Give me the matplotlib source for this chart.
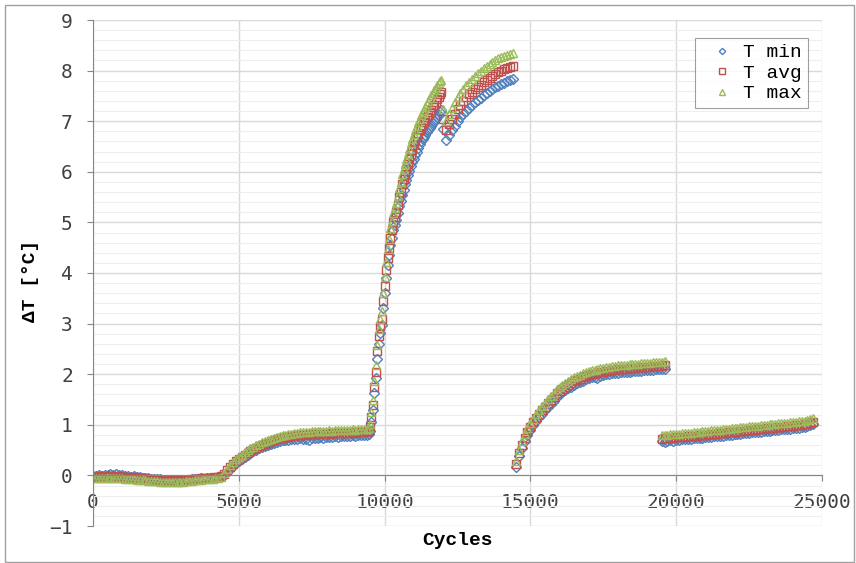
import numpy as np
import matplotlib
matplotlib.use("Agg")
import matplotlib.pyplot as plt
from matplotlib.ticker import MultipleLocator
from matplotlib.patches import Rectangle

# ---- data (cycles, delta T in degC) ----
# segment A: 0 .. 9400, every 100 cycles
x_a = np.arange(0, 9401, 100)
tmin_a = [-0.01, -0.02, 0.00, -0.01, 0.01, 0.00, 0.02, 0.01, 0.02, 0.01,
          0.00, -0.02, -0.01, -0.03, -0.02, -0.04, -0.04, -0.05, -0.05, -0.06,
          -0.07, -0.07, -0.08, -0.08, -0.09, -0.10, -0.09, -0.11, -0.10, -0.12,
          -0.11, -0.10, -0.10, -0.09, -0.08, -0.07, -0.08, -0.06, -0.07, -0.06,
          -0.06, -0.05, -0.05, -0.04, -0.03, 0.00, 0.06, 0.12, 0.18, 0.24,
          0.29, 0.33, 0.37, 0.41, 0.45, 0.48, 0.51, 0.54, 0.56, 0.58,
          0.60, 0.62, 0.64, 0.66, 0.68, 0.69, 0.70, 0.70, 0.71, 0.72,
          0.72, 0.73, 0.71, 0.72, 0.70, 0.73, 0.74, 0.73, 0.75, 0.74,
          0.76, 0.75, 0.76, 0.77, 0.76, 0.78, 0.77, 0.78, 0.77, 0.79,
          0.78, 0.79, 0.80, 0.79, 0.80]
tavg_a = [-0.03, -0.03, -0.02, -0.03, -0.02, -0.03, -0.02, -0.02, -0.03, -0.02,
          -0.03, -0.04, -0.04, -0.05, -0.04, -0.05, -0.06, -0.06, -0.07, -0.07,
          -0.08, -0.08, -0.09, -0.09, -0.10, -0.10, -0.10, -0.11, -0.10, -0.11,
          -0.10, -0.10, -0.09, -0.09, -0.08, -0.07, -0.07, -0.06, -0.06, -0.05,
          -0.05, -0.05, -0.04, -0.03, -0.02, 0.03, 0.10, 0.16, 0.22, 0.28,
          0.33, 0.37, 0.41, 0.45, 0.49, 0.52, 0.55, 0.58, 0.60, 0.62,
          0.65, 0.67, 0.69, 0.71, 0.73, 0.74, 0.75, 0.76, 0.77, 0.78,
          0.79, 0.79, 0.80, 0.80, 0.81, 0.81, 0.81, 0.82, 0.82, 0.82,
          0.82, 0.82, 0.83, 0.83, 0.83, 0.83, 0.84, 0.84, 0.84, 0.84,
          0.85, 0.85, 0.85, 0.86, 0.86]
tmax_a = [-0.05, -0.06, -0.05, -0.06, -0.05, -0.06, -0.05, -0.06, -0.06, -0.05,
          -0.06, -0.07, -0.07, -0.08, -0.08, -0.09, -0.09, -0.10, -0.10, -0.11,
          -0.11, -0.12, -0.12, -0.13, -0.13, -0.14, -0.14, -0.14, -0.13, -0.14,
          -0.13, -0.13, -0.12, -0.12, -0.11, -0.10, -0.10, -0.09, -0.08, -0.08,
          -0.07, -0.07, -0.06, -0.05, -0.03, 0.05, 0.13, 0.20, 0.26, 0.32,
          0.37, 0.41, 0.46, 0.50, 0.54, 0.57, 0.60, 0.63, 0.66, 0.68,
          0.70, 0.72, 0.74, 0.76, 0.78, 0.79, 0.80, 0.81, 0.82, 0.83,
          0.84, 0.85, 0.85, 0.86, 0.86, 0.87, 0.87, 0.88, 0.87, 0.88,
          0.88, 0.89, 0.88, 0.89, 0.89, 0.90, 0.89, 0.90, 0.90, 0.91,
          0.90, 0.91, 0.91, 0.92, 0.92]

# segment B: steep rise 9450 .. 11950, every 50 cycles
x_b = np.arange(9450, 11951, 50)
tmin_b = [0.82, 0.88, 1.05, 1.30, 1.62, 1.92, 2.30, 2.60, 2.82, 2.98,
          3.30, 3.60, 3.90, 4.15, 4.35, 4.55, 4.70, 4.84, 4.95, 5.05,
          5.18, 5.32, 5.42, 5.55, 5.65, 5.75, 5.84, 5.93, 6.02, 6.11,
          6.19, 6.26, 6.33, 6.40, 6.47, 6.54, 6.60, 6.64, 6.69, 6.73,
          6.78, 6.82, 6.87, 6.91, 6.96, 7.00, 7.04, 7.09, 7.13, 7.18,
          7.22]
tavg_b = [0.88, 0.95, 1.15, 1.40, 1.75, 2.05, 2.45, 2.75, 2.95, 3.10,
          3.45, 3.75, 4.05, 4.30, 4.50, 4.70, 4.85, 5.00, 5.10, 5.20,
          5.35, 5.50, 5.60, 5.75, 5.85, 5.95, 6.05, 6.15, 6.25, 6.35,
          6.44, 6.52, 6.60, 6.68, 6.75, 6.82, 6.88, 6.93, 6.98, 7.03,
          7.08, 7.13, 7.18, 7.23, 7.28, 7.33, 7.38, 7.43, 7.48, 7.53,
          7.57]
tmax_b = [0.93, 1.02, 1.25, 1.50, 1.86, 2.18, 2.58, 2.90, 3.10, 3.25,
          3.60, 3.92, 4.22, 4.48, 4.68, 4.88, 5.03, 5.18, 5.28, 5.38,
          5.53, 5.68, 5.80, 5.95, 6.05, 6.16, 6.26, 6.36, 6.46, 6.56,
          6.65, 6.74, 6.82, 6.90, 6.98, 7.05, 7.12, 7.18, 7.23, 7.29,
          7.34, 7.40, 7.45, 7.51, 7.56, 7.61, 7.66, 7.71, 7.75, 7.79,
          7.82]

# segment C: after the dip, 12000 .. 14400, every 100 cycles
x_c = np.arange(12000, 14401, 100)
tmin_c = [6.85, 6.62, 6.72, 6.82, 6.91, 7.00, 7.08, 7.15, 7.21, 7.27,
          7.32, 7.37, 7.42, 7.46, 7.51, 7.55, 7.59, 7.63, 7.67, 7.70,
          7.73, 7.76, 7.79, 7.81, 7.83]
tavg_c = [7.05, 6.82, 6.95, 7.05, 7.15, 7.25, 7.33, 7.40, 7.47, 7.53,
          7.58, 7.63, 7.68, 7.72, 7.77, 7.81, 7.85, 7.89, 7.93, 7.97,
          8.00, 8.03, 8.06, 8.08, 8.10]
tmax_c = [7.25, 7.00, 7.14, 7.26, 7.37, 7.47, 7.56, 7.64, 7.71, 7.78,
          7.84, 7.90, 7.95, 8.00, 8.05, 8.09, 8.13, 8.17, 8.21, 8.24,
          8.27, 8.29, 8.31, 8.33, 8.35]

# segment D: 14500 .. 19600, every 100 cycles
x_d = np.arange(14500, 19601, 100)
tmin_d = [0.17, 0.38, 0.54, 0.68, 0.80, 0.90, 0.99, 1.07, 1.15, 1.22,
          1.29, 1.36, 1.42, 1.48, 1.54, 1.60, 1.64, 1.68, 1.72, 1.75,
          1.79, 1.82, 1.85, 1.87, 1.90, 1.92, 1.94, 1.95, 1.93, 1.97,
          1.99, 2.00, 2.01, 2.02, 2.03, 2.03, 2.04, 2.04, 2.05, 2.05,
          2.06, 2.06, 2.07, 2.07, 2.08, 2.08, 2.09, 2.09, 2.10, 2.10,
          2.11, 2.11]
tavg_d = [0.22, 0.44, 0.60, 0.74, 0.86, 0.96, 1.05, 1.13, 1.21, 1.29,
          1.36, 1.43, 1.49, 1.55, 1.62, 1.67, 1.71, 1.75, 1.79, 1.82,
          1.86, 1.89, 1.91, 1.94, 1.96, 1.98, 2.00, 2.01, 2.03, 2.04,
          2.05, 2.06, 2.07, 2.08, 2.09, 2.10, 2.10, 2.11, 2.11, 2.12,
          2.12, 2.13, 2.13, 2.14, 2.14, 2.15, 2.15, 2.16, 2.16, 2.17,
          2.17, 2.18]
tmax_d = [0.28, 0.50, 0.67, 0.81, 0.93, 1.03, 1.12, 1.21, 1.29, 1.37,
          1.44, 1.51, 1.57, 1.63, 1.70, 1.75, 1.79, 1.83, 1.87, 1.90,
          1.94, 1.97, 1.99, 2.02, 2.04, 2.06, 2.08, 2.09, 2.11, 2.12,
          2.13, 2.14, 2.15, 2.16, 2.17, 2.18, 2.18, 2.19, 2.19, 2.20,
          2.20, 2.21, 2.21, 2.22, 2.22, 2.23, 2.23, 2.24, 2.24, 2.25,
          2.25, 2.26]

# segment E: 19500 .. 24700, every 100 cycles
x_e = np.arange(19500, 24701, 100)
tmin_e = [0.67, 0.66, 0.68, 0.69, 0.68, 0.70, 0.70, 0.71, 0.71, 0.72,
          0.72, 0.73, 0.73, 0.74, 0.74, 0.75, 0.75, 0.76, 0.77, 0.77,
          0.78, 0.78, 0.79, 0.80, 0.80, 0.81, 0.81, 0.82, 0.83, 0.83,
          0.84, 0.85, 0.85, 0.86, 0.86, 0.87, 0.88, 0.88, 0.89, 0.89,
          0.90, 0.91, 0.91, 0.92, 0.92, 0.93, 0.94, 0.94, 0.95, 0.96,
          0.97, 0.99, 1.01]
tavg_e = [0.72, 0.73, 0.73, 0.74, 0.74, 0.75, 0.75, 0.76, 0.76, 0.77,
          0.77, 0.78, 0.78, 0.79, 0.79, 0.80, 0.80, 0.81, 0.82, 0.82,
          0.83, 0.83, 0.84, 0.85, 0.85, 0.86, 0.86, 0.87, 0.88, 0.88,
          0.89, 0.90, 0.90, 0.91, 0.91, 0.92, 0.93, 0.93, 0.94, 0.94,
          0.95, 0.96, 0.96, 0.97, 0.97, 0.98, 0.99, 0.99, 1.00, 1.01,
          1.02, 1.04, 1.06]
tmax_e = [0.79, 0.80, 0.80, 0.81, 0.81, 0.82, 0.82, 0.83, 0.83, 0.84,
          0.84, 0.85, 0.86, 0.86, 0.87, 0.87, 0.88, 0.89, 0.89, 0.90,
          0.90, 0.91, 0.92, 0.92, 0.93, 0.93, 0.94, 0.95, 0.95, 0.96,
          0.97, 0.97, 0.98, 0.98, 0.99, 1.00, 1.00, 1.01, 1.01, 1.02,
          1.03, 1.03, 1.04, 1.04, 1.05, 1.06, 1.06, 1.07, 1.08, 1.08,
          1.10, 1.12, 1.14]

cycles = np.concatenate([x_a, x_b, x_c, x_d, x_e])
t_min = np.concatenate([tmin_a, tmin_b, tmin_c, tmin_d, tmin_e])
t_avg = np.concatenate([tavg_a, tavg_b, tavg_c, tavg_d, tavg_e])
t_max = np.concatenate([tmax_a, tmax_b, tmax_c, tmax_d, tmax_e])

mono = "DejaVu Sans Mono"
courier = "Liberation Mono"

fig = plt.figure(figsize=(8.56, 5.63), dpi=100)
ax = fig.add_axes([93 / 856, 1 - 526 / 563, 729 / 856, 506 / 563])

ax.plot(cycles, t_min, linestyle="none", marker="D", ms=4.6, mfc="none",
        mec="#4F81BD", mew=1.0, label="T min")
ax.plot(cycles, t_avg, linestyle="none", marker="s", ms=5.2, mfc="none",
        mec="#C0504D", mew=1.0, label="T avg")
ax.plot(cycles, t_max, linestyle="none", marker="^", ms=5.8, mfc="none",
        mec="#9BBB59", mew=1.0, label="T max")

ax.set_xlim(0, 25000)
ax.set_ylim(-1, 9)
ax.xaxis.set_major_locator(MultipleLocator(5000))
ax.yaxis.set_major_locator(MultipleLocator(1))
ax.yaxis.set_minor_locator(MultipleLocator(0.2))

ax.grid(which="major", color="#D9D9D9", linewidth=1.0)
ax.grid(which="minor", axis="y", color="#EEEEEE", linewidth=0.8)
ax.set_axisbelow(True)

for side in ("top", "right"):
    ax.spines[side].set_visible(False)
ax.spines["bottom"].set_position(("data", 0))
ax.spines["bottom"].set_color("#868686")
ax.spines["left"].set_color("#868686")

ax.tick_params(which="major", direction="out", length=4.5, width=0.8,
               color="#868686", labelsize=14, labelcolor="#404040")
ax.tick_params(which="minor", length=0)
ax.tick_params(axis="y", pad=10)
ax.tick_params(axis="x", pad=8)
for lab in ax.get_xticklabels() + ax.get_yticklabels():
    lab.set_family(mono)

ax.set_xlabel("Cycles", family=courier, fontweight="bold", fontsize=14,
              va="center")
ax.xaxis.set_label_coords(0.5, -0.028)
ax.set_ylabel("\u0394T [\u00b0C]", family=courier, fontweight="bold",
              fontsize=14, va="center")
ax.yaxis.set_label_coords(-0.086, 0.484)

leg = ax.legend(loc="upper right", bbox_to_anchor=(808 / 856, 1 - 38 / 563),
                bbox_transform=fig.transFigure, borderaxespad=0,
                prop={"family": courier, "size": 14}, frameon=True,
                fancybox=False, edgecolor="#868686", labelspacing=0.15,
                handlelength=2.2, handletextpad=0.0, borderpad=0.3,
                markerscale=0.7)
leg.get_frame().set_linewidth(0.8)

# light border round the whole chart
fig.patches.append(Rectangle((5 / 856, 0.002), 849 / 856, 0.99,
                             transform=fig.transFigure, fill=False,
                             edgecolor="#A0A0A0", linewidth=1.0))

fig.savefig("out.png", dpi=100)
